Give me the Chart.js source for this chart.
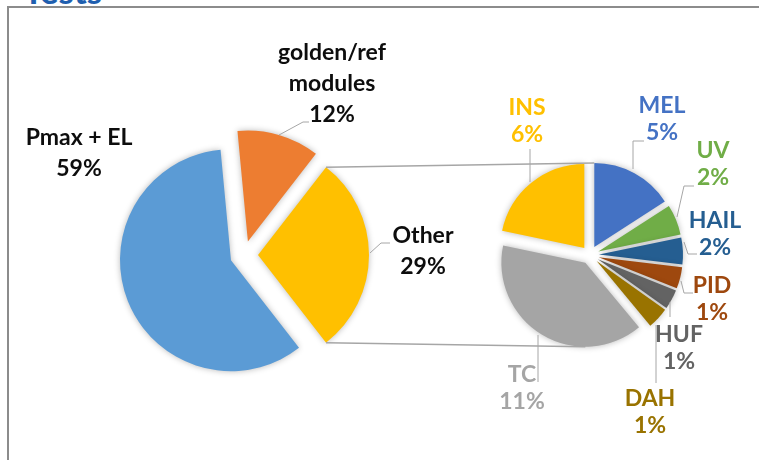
<!DOCTYPE html>
<html><head><meta charset="utf-8">
<script src="https://cdn.jsdelivr.net/npm/chart.js@4/dist/chart.umd.min.js"></script>
<style>
html,body{margin:0;padding:0;background:#fff;width:759px;height:460px;overflow:hidden;position:relative}
#frame{position:absolute;left:7px;top:6px;width:800px;height:500px;border:2.5px solid #8c8c8c;box-sizing:border-box}
#title{position:absolute;left:23px;top:-30px;font:bold 35px Lato, sans-serif;color:#1F5FAF;line-height:40px}
canvas{position:absolute;left:0;top:0}
</style></head><body>
<div id="title">Tests</div>
<div id="frame"></div>
<canvas id="c1" width="759" height="460"></canvas>
<canvas id="c2" width="759" height="460"></canvas>
<script>
// ---- data ----
const mainCategories = ['Pmax + EL', 'golden/ref modules', 'Other'];
const mainValues = [59, 12, 29];
const mainColors = ['#5B9BD5', '#ED7D31', '#FFC000'];

const subCategories = ['MEL', 'UV', 'HAIL', 'PID', 'HUF', 'DAH', 'TC', 'INS'];
const subValues = [4.6, 1.7, 1.5, 1.2, 1.1, 1.2, 11.4, 6.3];
const subColors = ['#4472C4', '#70AD47', '#255E91', '#9E480E', '#636363', '#997300', '#A5A5A5', '#FFC000'];

// ---- layout (label placement, not data) ----
const mainLabelLines = [['Pmax + EL'], ['golden/ref', 'modules'], ['Other']];
const mainLabelPos = [[79, 145], [332, 60], [423, 243]];
const mainLeaders = [null, [[279,135],[303,122],[309,122]], [[370,253],[381,243],[390,243]]];
const subLabelPos = [[662,113],[713,158],[715,228],[712,293],[679,342],[650,406],[522,382],[527,115]];
const subLeaders = [
  [[633,169],[633,141],[644,141]],
  [[677,217],[684,186],[694,186]],
  [[684,242],[688,254],[697,254]],
  [[681,281],[684,293],[693,293]],
  [[670,302],[670,317]],
  [[656,325],[656,383]],
  [[538,335],[538,382]],
  [[530,182],[530,149]]
];
const LABEL_FONT = 'bold 23px Lato, sans-serif';

const shadowPlugin = {
  id: 'shadow',
  beforeDatasetsDraw(chart) {
    const ctx = chart.ctx; ctx.save();
    ctx.shadowColor = 'rgba(0,0,0,0.28)'; ctx.shadowBlur = 6; ctx.shadowOffsetX = 0; ctx.shadowOffsetY = 0;
  },
  afterDatasetsDraw(chart) { chart.ctx.restore(); }
};
// explode every slice outward along its mid-angle by a fixed distance
function explodePlugin(shift) {
  return {
    id: 'explode',
    afterUpdate(chart) {
      chart.getDatasetMeta(0).data.forEach(arc => {
        const mid = (arc.startAngle + arc.endAngle) / 2;
        arc.x += shift * Math.cos(mid); arc.y += shift * Math.sin(mid);
      });
    }
  };
}
function arcPoint(arc, angle) {
  return [arc.x + arc.outerRadius * Math.cos(angle), arc.y + arc.outerRadius * Math.sin(angle)];
}
function poly(ctx, pts) {
  if (!pts) return;
  ctx.beginPath(); ctx.moveTo(pts[0][0], pts[0][1]);
  for (let i = 1; i < pts.length; i++) ctx.lineTo(pts[i][0], pts[i][1]);
  ctx.stroke();
}
function drawLabel(ctx, lines, pos, color, spacing) {
  ctx.font = LABEL_FONT; ctx.fillStyle = color; ctx.textAlign = 'center'; ctx.textBaseline = 'alphabetic';
  lines.forEach((t, i) => ctx.fillText(t, pos[0], pos[1] + i * spacing));
}
const total = mainValues.reduce((a, b) => a + b, 0);
const pct = v => Math.round(v / total * 100) + '%';

const chart1 = new Chart(document.getElementById('c1'), {
  type: 'pie',
  data: { labels: mainCategories, datasets: [{ data: mainValues, backgroundColor: mainColors, borderWidth: 0, offset: 0, hoverOffset: 0 }] },
  options: {
    responsive: false, animation: false, rotation: 142.2, radius: 111,
    layout: { padding: { left: 0, right: 271, top: 50, bottom: 0 } },
    plugins: { legend: { display: false }, tooltip: { enabled: false } },
    events: []
  },
  plugins: [explodePlugin(14), shadowPlugin, {
    id: 'mainLabels',
    afterDraw(chart) {
      const ctx = chart.ctx; ctx.save();
      ctx.strokeStyle = '#A6A6A6'; ctx.lineWidth = 1;
      mainLeaders.forEach(p => poly(ctx, p));
      mainCategories.forEach((c, i) => drawLabel(ctx, mainLabelLines[i].concat([pct(mainValues[i])]), mainLabelPos[i], '#0D0D0D', 31));
      ctx.restore();
    }
  }]
});

new Chart(document.getElementById('c2'), {
  type: 'pie',
  data: { labels: subCategories, datasets: [{ data: subValues, backgroundColor: subColors, borderWidth: 0, offset: 0, hoverOffset: 0 }] },
  options: {
    responsive: false, animation: false, rotation: 0, radius: 84,
    layout: { padding: { left: 421, right: 0, top: 50, bottom: 0 } },
    plugins: { legend: { display: false }, tooltip: { enabled: false } },
    events: []
  },
  plugins: [explodePlugin(9), shadowPlugin, {
    id: 'subLabels',
    afterDraw(chart) {
      const ctx = chart.ctx; ctx.save();
      const other = chart1.getDatasetMeta(0).data[2];
      const arcs = chart.getDatasetMeta(0).data;
      ctx.strokeStyle = '#A6A6A6'; ctx.lineWidth = 1.5;
      poly(ctx, [arcPoint(other, other.startAngle), arcPoint(arcs[0], arcs[0].startAngle)]);
      poly(ctx, [arcPoint(other, other.endAngle), arcPoint(arcs[6], Math.PI / 2)]);
      ctx.lineWidth = 1;
      subLeaders.forEach(p => poly(ctx, p));
      subCategories.forEach((c, i) => drawLabel(ctx, [c, pct(subValues[i])], subLabelPos[i], subColors[i], 27));
      ctx.restore();
    }
  }]
});
</script>
</body></html>
